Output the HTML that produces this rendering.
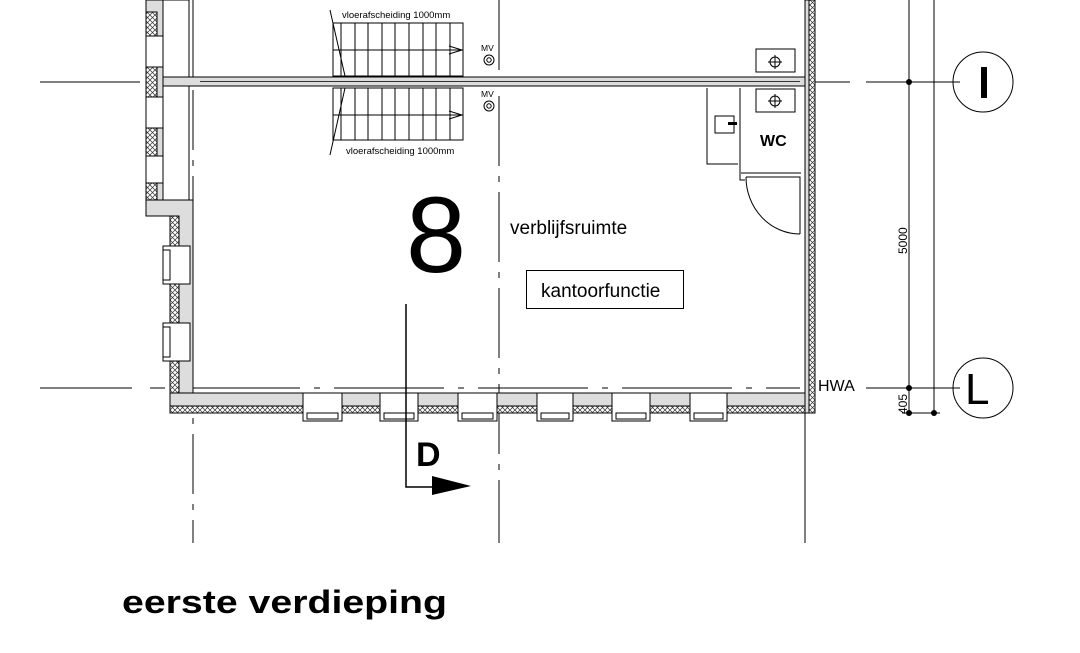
<!DOCTYPE html>
<html><head><meta charset="utf-8"><style>
html,body{margin:0;padding:0;background:#fff;width:1080px;height:653px;overflow:hidden}
svg{display:block}
text{font-family:"Liberation Sans",Arial,sans-serif}
</style></head><body>
<svg width="1080" height="653" viewBox="0 0 1080 653" xmlns="http://www.w3.org/2000/svg">
<defs>
<pattern id="x" width="5" height="5" patternUnits="userSpaceOnUse">
<rect width="5" height="5" fill="#fff"/>
<path d="M0 0L5 5M5 0L0 5" stroke="#333" stroke-width="0.7"/>
</pattern>
</defs>
<g stroke="#000" fill="none" stroke-width="1">
<line x1="40" y1="82" x2="140" y2="82"/>
<line x1="815" y1="82" x2="850" y2="82"/>
<line x1="866" y1="82" x2="960" y2="82"/>
<line x1="40" y1="388" x2="132" y2="388"/>
<line x1="150" y1="388" x2="165" y2="388"/>
<line x1="190" y1="388" x2="800" y2="388" stroke-dasharray="110 14 6 14"/>
<line x1="866" y1="388" x2="960" y2="388"/>
<circle cx="983" cy="82" r="30"/>
<circle cx="983" cy="388" r="30"/>
<line x1="909" y1="0" x2="909" y2="413"/>
<line x1="934" y1="0" x2="934" y2="413"/>
<line x1="902" y1="413" x2="940" y2="413"/>
<line x1="193" y1="90" x2="193" y2="543" stroke-dasharray="60 10 6 10"/>
<line x1="193" y1="0" x2="193" y2="78"/>
<line x1="499" y1="0" x2="499" y2="543" stroke-dasharray="70 10 6 10"/>
<line x1="805" y1="0" x2="805" y2="543"/>
</g>
<g fill="#000">
<circle cx="909" cy="82" r="3"/><circle cx="909" cy="388" r="3"/>
<circle cx="909" cy="413" r="3"/><circle cx="934" cy="413" r="3"/>
</g>
<g stroke="#000" stroke-width="1">
<rect x="146" y="0" width="17" height="200" fill="#ddd"/>
<rect x="146" y="12" width="11" height="24" fill="url(#x)"/>
<rect x="146" y="67" width="11" height="30" fill="url(#x)"/>
<rect x="146" y="128" width="11" height="28" fill="url(#x)"/>
<rect x="146" y="183" width="11" height="17" fill="url(#x)"/>
<rect x="146" y="36" width="17" height="31" fill="#fff"/>
<rect x="146" y="97" width="17" height="31" fill="#fff"/>
<rect x="146" y="156" width="17" height="27" fill="#fff"/>
<rect x="163" y="0" width="26" height="200" fill="#fff"/>
<path d="M146 200 L146 216 L170 216 L170 413 L193 413 L193 200 Z" fill="#ddd"/>
<rect x="170" y="216" width="9" height="180" fill="url(#x)"/>
<rect x="163" y="246" width="27" height="38" fill="#fff"/>
<rect x="163" y="250" width="7" height="30" fill="#fff"/>
<rect x="163" y="323" width="27" height="38" fill="#fff"/>
<rect x="163" y="327" width="7" height="30" fill="#fff"/>
<rect x="170" y="393" width="645" height="20" fill="#ddd"/>
<rect x="170" y="406" width="645" height="7" fill="url(#x)"/>
<rect x="805" y="0" width="10" height="413" fill="#ddd"/>
<rect x="809" y="0" width="6" height="413" fill="url(#x)"/>
<rect x="163" y="77" width="642" height="9" fill="#ddd"/>
<line x1="200" y1="81.5" x2="800" y2="81.5" stroke="#333"/>
</g>
<g stroke="#000" fill="#fff">
<rect x="303" y="393" width="39" height="28"/><rect x="307" y="413" width="31" height="6"/>
<rect x="380" y="393" width="38" height="28"/><rect x="384" y="413" width="30" height="6"/>
<rect x="458" y="393" width="39" height="28"/><rect x="462" y="413" width="31" height="6"/>
<rect x="537" y="393" width="36" height="28"/><rect x="541" y="413" width="28" height="6"/>
<rect x="612" y="393" width="38" height="28"/><rect x="616" y="413" width="30" height="6"/>
<rect x="690" y="393" width="37" height="28"/><rect x="694" y="413" width="29" height="6"/>
</g>
<g stroke="#000" fill="none" stroke-width="1">
<rect x="333" y="23" width="130" height="53"/>
<rect x="333" y="88" width="130" height="52"/>
<line x1="333" y1="50" x2="463" y2="50"/><line x1="333" y1="115" x2="463" y2="115"/>
<path d="M341 23V76M355 23V76M368 23V76M382 23V76M395 23V76M409 23V76M423 23V76M436 23V76M450 23V76"/>
<path d="M341 88V140M355 88V140M368 88V140M382 88V140M395 88V140M409 88V140M423 88V140M436 88V140M450 88V140"/>
<path d="M449 46L462 50L449 54M449 111L462 115L449 119"/>
<line x1="330" y1="10" x2="345" y2="76"/><line x1="345" y1="88" x2="330" y2="155"/>
<circle cx="489" cy="60" r="5"/><circle cx="489" cy="60" r="2.2"/>
<circle cx="489" cy="106" r="5"/><circle cx="489" cy="106" r="2.2"/>
</g>
<text x="342" y="18" font-size="9.5">vloerafscheiding 1000mm</text>
<text x="346" y="154" font-size="9.5">vloerafscheiding 1000mm</text>
<text x="481" y="51" font-size="8.5">MV</text>
<text x="481" y="97" font-size="8.5">MV</text>
<g stroke="#000" fill="none">
<rect x="756" y="49" width="39" height="23"/>
<rect x="756" y="89" width="39" height="23"/>
<circle cx="775" cy="62" r="5"/><path d="M768 62H782M775 55V69"/>
<circle cx="775" cy="101" r="5"/><path d="M768 101H782M775 94V108"/>
<path d="M707 88V164H738"/>
<path d="M740 88V180H745"/>
<path d="M741 173H801"/>
<rect x="715" y="116" width="19" height="17"/>
<path d="M746 177H800V234"/>
<path d="M746 177A54 57 0 0 0 800 234"/>
</g>
<rect x="728" y="122" width="9" height="3" fill="#000"/>
<text x="760" y="146" font-size="16" font-weight="bold">WC</text>
<text x="406" y="272" font-size="108">8</text>
<text x="510" y="234" font-size="19">verblijfsruimte</text>
<rect x="526.5" y="270.5" width="157" height="38" fill="none" stroke="#000"/>
<text x="541" y="297" font-size="19">kantoorfunctie</text>
<text x="818" y="391" font-size="16">HWA</text>
<text transform="translate(907,254) rotate(-90)" font-size="12">5000</text>
<text transform="translate(907,414) rotate(-90)" font-size="12">405</text>
<rect x="981" y="67" width="6" height="31" fill="#000"/>
<text x="965" y="404" font-size="44">L</text>
<g stroke="#000" fill="none" stroke-width="1.5">
<path d="M406 304V487H434"/>
</g>
<path d="M432 476L471 486L432 495Z" fill="#000"/>
<text x="416" y="466" font-size="34" font-weight="bold">D</text>
<text x="122" y="613" font-size="32" font-weight="bold" textLength="325" lengthAdjust="spacingAndGlyphs">eerste verdieping</text>
</svg>
</body></html>
